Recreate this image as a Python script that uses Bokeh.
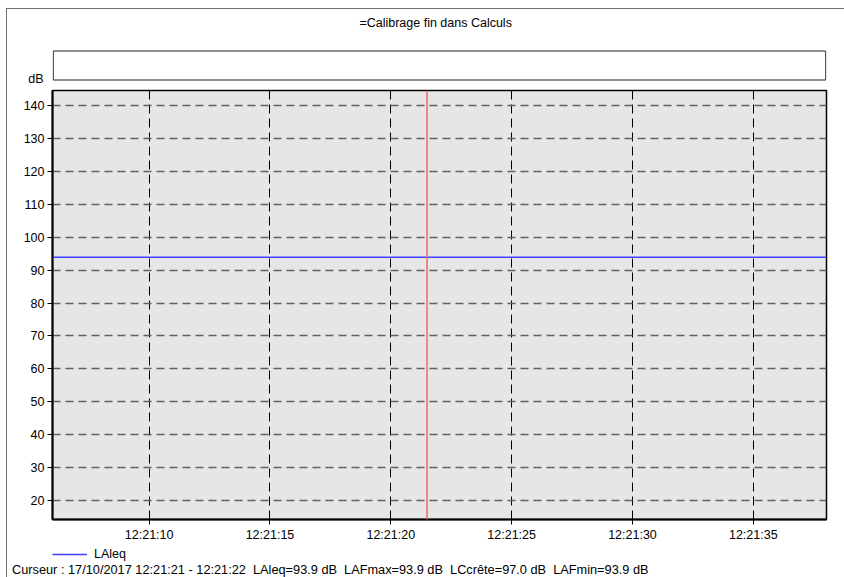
from datetime import datetime
from bokeh.plotting import figure
from bokeh.layouts import column
from bokeh.models import (Label, Span, FixedTicker, DatetimeTickFormatter, Div,
                          Legend, LegendItem, Range1d, ColumnDataSource)
from bokeh.embed import file_html
from bokeh.resources import INLINE

# ---- data ----
title_text = "=Calibrage fin dans Calculs"
cursor_text = ("Curseur : 17/10/2017 12:21:21 - 12:21:22  LAleq=93.9 dB  LAFmax=93.9 dB  "
               "LCcrête=97.0 dB  LAFmin=93.9 dB")
y_unit = "dB"
series_name = "LAleq"
times = ["2017-10-17 12:21:06", "2017-10-17 12:21:10", "2017-10-17 12:21:15",
         "2017-10-17 12:21:20", "2017-10-17 12:21:21", "2017-10-17 12:21:22",
         "2017-10-17 12:21:25", "2017-10-17 12:21:30", "2017-10-17 12:21:35",
         "2017-10-17 12:21:38"]
laeq = [93.9, 93.9, 93.9, 93.9, 93.9, 93.9, 93.9, 93.9, 93.9, 93.9]
x_ticks = ["2017-10-17 12:21:10", "2017-10-17 12:21:15", "2017-10-17 12:21:20",
           "2017-10-17 12:21:25", "2017-10-17 12:21:30", "2017-10-17 12:21:35"]
y_ticks = [20, 30, 40, 50, 60, 70, 80, 90, 100, 110, 120, 130, 140]
cursor_time = "2017-10-17 12:21:21.5"
x_start = "2017-10-17 12:21:06"
x_end = "2017-10-17 12:21:38.03"
y_start, y_end = 14.2, 144.6


def ts(s):
    return datetime.fromisoformat(s)


def ms(s):
    return (ts(s) - datetime(1970, 1, 1)).total_seconds() * 1000


FONT = "Liberation Sans"
FS = "12.5px"
LINE_COLOR = "#4040ff"


def bare(fig):
    fig.grid.visible = False
    fig.outline_line_color = None
    fig.background_fill_color = None
    fig.border_fill_color = None


# ---- header: title, white box, unit (frame aligned with main plot frame) ----
hdr = figure(width=844, height=88, output_backend="svg", toolbar_location=None,
             x_range=Range1d(-0.001, 1.001), y_range=Range1d(88, 0),
             x_axis_location=None, y_axis_location="left",
             min_border_left=52, min_border_right=18, min_border_top=0, min_border_bottom=0)
bare(hdr)
hdr.quad(left=[0], right=[1], top=[50.5], bottom=[79.5],
         fill_color="white", line_color="#222222", line_width=1)
hdr.add_layout(Label(x=0.495, y=22, text=title_text, text_align="center",
                     text_baseline="alphabetic", text_font=FONT,
                     text_font_size=FS, text_color="black"))
ya = hdr.yaxis[0]
ya.ticker = FixedTicker(ticks=[84])
ya.major_label_overrides = {84: y_unit}
ya.axis_line_color = None
ya.major_tick_line_color = None
ya.minor_tick_line_color = None
ya.major_tick_out = 0
ya.major_tick_in = 0
ya.major_label_standoff = 9
ya.major_label_text_font = FONT
ya.major_label_text_font_size = FS
ya.major_label_text_color = "black"

# ---- main plot ----
src = ColumnDataSource(dict(t=[ts(t) for t in times], v=laeq))

p = figure(width=844, height=457, output_backend="svg", toolbar_location=None,
           x_axis_type="datetime",
           x_range=Range1d(ts(x_start), ts(x_end)), y_range=Range1d(y_start, y_end),
           min_border_left=52, min_border_right=18, min_border_top=2, min_border_bottom=26)
p.background_fill_color = "#e6e6e6"
p.border_fill_color = None
p.outline_line_color = "black"
p.outline_line_width = 1.5

p.line("t", "v", source=src, line_color=LINE_COLOR, line_width=1.5)

p.xaxis.ticker = FixedTicker(ticks=[ms(t) for t in x_ticks])
p.xaxis.formatter = DatetimeTickFormatter(seconds="%H:%M:%S", minsec="%H:%M:%S",
                                          minutes="%H:%M:%S", hourmin="%H:%M:%S")
p.yaxis.ticker = FixedTicker(ticks=y_ticks)
for ax in (p.xaxis[0], p.yaxis[0]):
    ax.axis_line_color = "black"
    ax.axis_line_width = 2
    ax.major_tick_line_color = "black"
    ax.major_tick_line_width = 1
    ax.major_tick_out = 5
    ax.major_tick_in = 0
    ax.minor_tick_line_color = None
    ax.major_label_text_font = FONT
    ax.major_label_text_font_size = FS
    ax.major_label_text_color = "black"
p.xaxis.major_label_standoff = 3
p.yaxis.major_label_standoff = 3

p.xgrid.grid_line_color = "black"
p.xgrid.grid_line_dash = "9 5"
p.xgrid.grid_line_width = 1
p.ygrid.grid_line_color = "#606060"
p.ygrid.grid_line_dash = "8 5"
p.ygrid.grid_line_width = 1.5

p.add_layout(Span(location=ms(cursor_time), dimension="height",
                  line_color="#f26868", line_width=1.5))

# ---- legend strip (same series, same x scale; legend drawn inside its frame) ----
leg = figure(width=844, height=18, output_backend="svg", toolbar_location=None,
             x_range=p.x_range, y_range=Range1d(0, 1),
             x_axis_location=None, y_axis_location=None,
             min_border_left=52, min_border_right=18, min_border_top=0, min_border_bottom=0)
bare(leg)
r_leg = leg.line("t", "v", source=src, line_color=LINE_COLOR, line_width=1.5)
legend = Legend(items=[LegendItem(label=series_name, renderers=[r_leg])],
                location="top_left", orientation="horizontal",
                glyph_width=35, glyph_height=18, label_height=18, label_standoff=7,
                padding=0, margin=0, spacing=0,
                border_line_color=None, background_fill_alpha=0,
                label_text_font=FONT, label_text_font_size=FS,
                label_text_color="black")
leg.add_layout(legend)

# ---- footer: cursor read-out ----
ftr = Div(text=cursor_text, render_as_text=True, width=832, height=14, margin=0,
          styles={"font-family": "'Liberation Sans', Arial, sans-serif",
                  "font-size": "12.75px", "color": "black", "line-height": "14px",
                  "padding-left": "12px", "white-space": "pre"})

frame_bg = ("linear-gradient(#707070,#707070) 6px 8px / 1px 569px no-repeat, "
            "linear-gradient(#707070,#707070) 6px 8px / 838px 1px no-repeat, white")
layout = column(hdr, p, leg, ftr, spacing=0, styles={"background": frame_bg})

open("out.html", "w").write(file_html(layout, INLINE))
